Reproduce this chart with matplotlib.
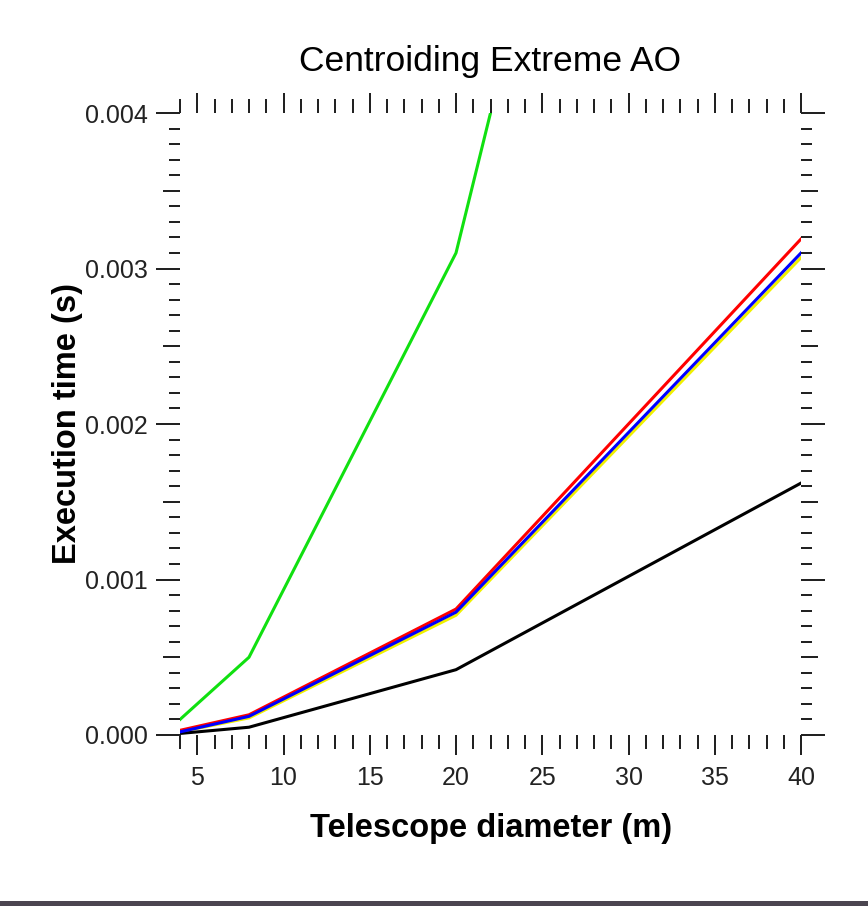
import matplotlib
matplotlib.use('Agg')
import matplotlib.pyplot as plt
from matplotlib.ticker import MultipleLocator
from matplotlib.patches import Rectangle

# telescope diameter (m)
diameter = [4, 8, 20, 40]

# execution time (s) per method
t_green = [0.0001, 0.0005, 0.0031, 0.0121]
t_yellow = [0.00002, 0.00011, 0.00077, 0.00307]
t_black = [0.00001, 0.00005, 0.00042, 0.00162]
t_red = [0.00003, 0.00013, 0.00081, 0.00319]
t_blue = [0.00002, 0.00012, 0.00079, 0.00310]

ytick_vals = [0.000, 0.001, 0.002, 0.003, 0.004]
ytick_labels = ['0.000', '0.001', '0.002', '0.003', '0.004']
ymid_vals = [0.0005, 0.0015, 0.0025, 0.0035]

W, H = 868, 906
PX = 0.72  # points per pixel at dpi 100
fig = plt.figure(figsize=(W / 100, H / 100), dpi=100)
fig.patch.set_facecolor('white')

ax = fig.add_axes([180 / W, 171 / H, 621 / W, 622 / H])

lw = 2.2
ax.plot(diameter, t_green, color='#10e010', linewidth=lw)
ax.plot(diameter, t_yellow, color='#f0f000', linewidth=lw)
ax.plot(diameter, t_black, color='black', linewidth=lw)
ax.plot(diameter, t_red, color='#ff0000', linewidth=lw)
ax.plot(diameter, t_blue, color='#0000ff', linewidth=lw)

ax.set_xlim(4, 40)
ax.set_ylim(0, 0.004)

for s in ax.spines.values():
    s.set_visible(False)

tick_font = ['Liberation Sans Narrow', 'Liberation Sans', 'DejaVu Sans']
tick_col = '#222222'
tick_w = 2 * PX

ax.xaxis.set_major_locator(MultipleLocator(5))
ax.xaxis.set_minor_locator(MultipleLocator(1))
ax.set_yticks(ytick_vals)
ax.set_yticklabels(ytick_labels)
ax.yaxis.set_minor_locator(MultipleLocator(0.0001))

ax.tick_params(axis='both', which='both', direction='out', top=True, right=True,
               color=tick_col, width=tick_w)
ax.tick_params(axis='x', which='major', length=20 * PX, pad=11 * PX)
ax.tick_params(axis='x', which='minor', length=14 * PX)
ax.tick_params(axis='y', which='major', length=24 * PX, pad=8 * PX)
ax.tick_params(axis='y', which='minor', length=11 * PX)
for lab in ax.get_xticklabels() + ax.get_yticklabels():
    lab.set_family(tick_font)
    lab.set_fontsize(18)
    lab.set_color(tick_col)

# medium ticks at the half steps on both y sides
for side in ['left', 'right']:
    sec = ax.secondary_yaxis(side)
    sec.set_yticks(ymid_vals)
    sec.tick_params(which='major', length=17 * PX, width=tick_w, color=tick_col,
                    labelleft=False, labelright=False)
    sec.tick_params(which='minor', length=0)
    for s in sec.spines.values():
        s.set_visible(False)

fig.text(490 / W, 1 - 62 / H, 'Centroiding Extreme AO', ha='center', va='center',
         fontsize=25.5, family='Liberation Sans', color='black')
fig.text(491 / W, 1 - 828 / H, 'Telescope diameter (m)', ha='center', va='center',
         fontsize=23.5, fontweight='bold', family='Liberation Sans', color='black')
fig.text(68 / W, 1 - 424 / H, 'Execution time (s)', ha='center', va='center',
         rotation=90, fontsize=23.5, fontweight='bold', family='Liberation Sans',
         color='black')

# dark strip along the bottom edge
fig.patches.append(Rectangle((0, 0), 1, 5 / H, transform=fig.transFigure,
                             facecolor='#4b4550', edgecolor='none'))

fig.savefig('out.png', dpi=100)
